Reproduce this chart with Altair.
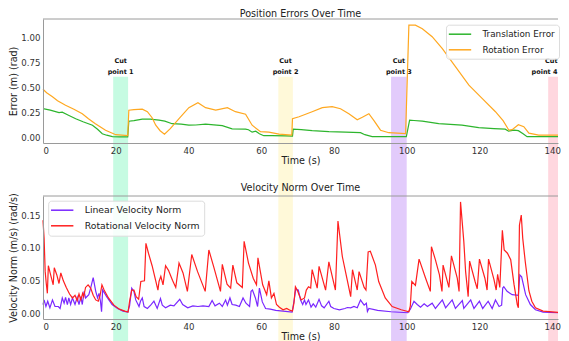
import altair as alt
import pandas as pd

# ---------------- data ----------------
trans_t = [0, 2, 4.4, 5.3, 7, 9, 11, 13.6, 15, 16.3, 17.5, 19.1, 21, 23.3, 23.6, 25, 27.3, 29.5, 31.9, 33.5, 35.5,
           38, 40.1, 42, 44.7, 47, 49.3, 52, 55.7, 56.5, 57.5, 58.5, 59.5, 60.7, 63, 66.7, 68.6, 68.8, 71, 74, 78.6,
           83.2, 87.3, 88.5, 90.5, 95, 99.9, 100.8, 102, 104.3, 108.8, 115.2, 119.8, 124, 127.1, 128, 129.5, 130.7,
           132, 133.1, 136, 143.8]
trans_v = [0.29, 0.275, 0.25, 0.255, 0.225, 0.19, 0.16, 0.125, 0.085, 0.04, 0.025, 0.01, 0.008, 0.008, 0.165, 0.17,
           0.185, 0.185, 0.175, 0.165, 0.14, 0.135, 0.125, 0.127, 0.135, 0.128, 0.12, 0.088, 0.085, 0.08, 0.055, 0.065,
           0.04, 0.02, 0.02, 0.018, 0.015, 0.085, 0.08, 0.07, 0.06, 0.055, 0.05, 0.03, 0.01, 0.01, 0.01, 0.175, 0.172,
           0.165, 0.14, 0.125, 0.1, 0.09, 0.085, 0.065, 0.075, 0.07, 0.04, 0.01, 0.01, 0.01]

rot_t = [0, 1, 2.6, 4, 6.2, 8.5, 10.8, 12.5, 14.4, 17.2, 20, 23.3, 23.6, 25, 27.3, 28.7, 30, 31, 32.2, 33.4, 35, 37.4,
         40.1, 42.6, 44.7, 47.5, 50.7, 52.9, 55.7, 57.5, 59.8, 62.1, 64.9, 68.4, 68.6, 70.4, 74, 76.8, 79.5, 81.8,
         84.1, 86.4, 87.8, 89.6, 91, 92.8, 95.1, 99.7, 100.6, 102.4, 104.3, 107, 109.8, 113.4, 117.1, 120.8, 124.4,
         126.5, 128.1, 129, 130.7, 132.2, 133.6, 136.3, 143.8]
rot_v = [0.485, 0.45, 0.41, 0.37, 0.325, 0.285, 0.24, 0.19, 0.14, 0.074, 0.03, 0.02, 0.275, 0.28, 0.285, 0.26, 0.2,
         0.125, 0.07, 0.035, 0.09, 0.19, 0.30, 0.35, 0.30, 0.275, 0.30, 0.26, 0.235, 0.125, 0.06, 0.055, 0.035, 0.025,
         0.19, 0.21, 0.26, 0.30, 0.31, 0.29, 0.24, 0.18, 0.205, 0.24, 0.17, 0.075, 0.05, 0.04, 1.125, 1.125, 1.09,
         1.01, 0.89, 0.71, 0.525, 0.39, 0.26, 0.17, 0.075, 0.08, 0.13, 0.11, 0.045, 0.025, 0.025]

lin_t = [0, 0.3, 0.8, 1.3, 1.9, 2.6, 3.3, 4.2, 4.7, 5.3, 5.8, 6.2, 6.7, 7.1, 7.6, 8.1, 8.8, 9.4, 9.9, 10.4, 10.8,
         11.3, 11.7, 12.6, 13.1, 13.8, 14.5, 15, 15.4, 15.8, 16.1, 16.4, 17.5, 19, 20.5, 22, 23.3, 23.8, 24.4, 25,
         25.5, 26.4, 26.8, 27.3, 27.8, 28.7, 29.6, 30.5, 31.4, 32.3, 32.8, 33.7, 35, 36, 37.6, 38.4, 39.8, 41.2,
         42.6, 44, 45.6, 46.5, 47.3, 48.5, 49.3, 50.2, 50.7, 51.4, 52, 53, 54, 55, 55.8, 56.8, 57.2, 57.6, 58.4, 59,
         59.5, 60.3, 61.2, 62.5, 64, 66, 68.5, 69, 69.5, 70.2, 70.8, 71.4, 71.9, 72.3, 73, 73.7, 74.3, 75, 75.9,
         76.6, 77.3, 78.6, 79.1, 80, 81.5, 83, 83.7, 84.6, 85.5, 86.4, 87.3, 87.8, 88.3, 88.9, 89.2, 89.6, 92, 95.7,
         100.3, 101, 102, 102.9, 103.8, 104.8, 105.7, 107, 107.9, 109.8, 110.7, 112.5, 113.4, 115.3, 115.7, 117.6,
         118.5, 120, 120.9, 122.4, 123.5, 124.4, 125.4, 126.1, 126.4, 126.7, 127.6, 129, 130.7, 131.1, 131.6, 132.7,
         134, 135.4, 137.5, 143.8]
lin_v = [0.014, 0.021, 0.011, 0.019, 0.009, 0.021, 0.011, 0.011, 0.008, 0.024, 0.016, 0.025, 0.014, 0.024, 0.014,
         0.024, 0.014, 0.025, 0.014, 0.026, 0.014, 0.034, 0.024, 0.029, 0.039, 0.055, 0.034, 0.024, 0.031, 0.019,
         0.003, 0.036, 0.026, 0.014, 0.008, 0.004, 0.0025, 0.012, 0.039, 0.034, 0.021, 0.011, 0.019, 0.024, 0.011,
         0.008, 0.013, 0.019, 0.008, 0.023, 0.013, 0.009, 0.013, 0.012, 0.022, 0.014, 0.009, 0.012, 0.011, 0.012,
         0.011, 0.02, 0.012, 0.016, 0.011, 0.021, 0.013, 0.024, 0.014, 0.013, 0.011, 0.024, 0.016, 0.011, 0.034,
         0.036, 0.024, 0.011, 0.039, 0.018, 0.008, 0.007, 0.005, 0.004, 0.0025, 0.019, 0.037, 0.036, 0.021, 0.014,
         0.021, 0.014, 0.021, 0.01, 0.015, 0.01, 0.022, 0.012, 0.009, 0.019, 0.011, 0.008, 0.006, 0.008, 0.0095,
         0.009, 0.011, 0.009, 0.021, 0.017, 0.013, 0.016, 0.0035, 0.008, 0.005, 0.003, 0.0015, 0.007, 0.019, 0.014,
         0.01, 0.015, 0.011, 0.016, 0.008, 0.021, 0.009, 0.021, 0.008, 0.02, 0.008, 0.021, 0.008, 0.019, 0.008,
         0.019, 0.008, 0.021, 0.011, 0.013, 0.039, 0.041, 0.034, 0.029, 0.028, 0.059, 0.056, 0.029, 0.014, 0.006,
         0.0025, 0.0015]

rv_t = [0, 0.3, 0.6, 0.9, 1.2, 1.47, 2.1, 2.8, 3.1, 3.8, 4.4, 4.9, 5.6, 6.4, 7.3, 8.1, 8.8, 9.4, 9.9, 10.4, 10.9,
        11.2, 11.7, 12.4, 13.1, 13.8, 14.5, 15.2, 15.7, 16.2, 16.8, 18, 19.5, 21, 22.5, 23.4, 23.8, 24.4, 25, 25.6,
        26.3, 26.9, 27.9, 28.3, 29, 30, 31, 31.6, 31.9, 32.4, 33, 33.7, 34.5, 35.6, 36.5, 37.4, 38.5, 39.7, 40.9,
        42.5, 44.6, 45.6, 47, 48.8, 49.3, 50.6, 51.6, 52.2, 53.3, 54.8, 55.3, 56.5, 57.8, 58.7, 59.1, 60.4, 61.5,
        62.1, 62.8, 63.5, 64.2, 65, 66, 67, 68, 68.6, 69, 69.4, 69.9, 70.4, 71, 71.9, 72.4, 73, 73.6, 74, 75.4,
        75.9, 77.7, 78.6, 80.4, 81.1, 82.3, 83.7, 84.6, 85.1, 86.4, 86.9, 88.3, 88.8, 89.4, 90, 91.4, 92.3, 94.1, 96,
        98.5, 100.6, 101, 101.4, 102.4, 103.4, 105.2, 106.5, 106.8, 107.9, 109, 109.7, 110, 111.6, 112.3, 113.9,
        114.4, 114.8, 115.7, 116.2, 116.9, 117.3, 118.8, 119.4, 120, 121.5, 122.1, 122.5, 124, 124.6, 125, 125.6,
        126.3, 126.8, 127.7, 128.6, 129.5, 130.4, 130.7, 131, 131.5, 131.9, 132.6, 133.6, 134.4, 135.4, 137.5, 143.8]
rv_v = [0.142, 0.115, 0.064, 0.046, 0.031, 0.073, 0.059, 0.044, 0.07, 0.059, 0.046, 0.062, 0.05, 0.04, 0.03, 0.024,
        0.028, 0.02, 0.03, 0.021, 0.031, 0.026, 0.04, 0.044, 0.039, 0.028, 0.021, 0.019, 0.028, 0.044, 0.036, 0.024,
        0.013, 0.007, 0.004, 0.0025, 0.019, 0.036, 0.036, 0.026, 0.022, 0.049, 0.05, 0.107, 0.092, 0.073, 0.05,
        0.036, 0.049, 0.057, 0.044, 0.073, 0.066, 0.051, 0.04, 0.077, 0.062, 0.034, 0.09, 0.064, 0.034, 0.097, 0.07,
        0.034, 0.075, 0.045, 0.039, 0.074, 0.047, 0.04, 0.11, 0.077, 0.054, 0.044, 0.085, 0.044, 0.029, 0.05, 0.024,
        0.031, 0.014, 0.01, 0.006, 0.008, 0.005, 0.004, 0.016, 0.041, 0.036, 0.029, 0.021, 0.024, 0.036, 0.041,
        0.039, 0.067, 0.039, 0.072, 0.036, 0.079, 0.036, 0.141, 0.087, 0.05, 0.026, 0.067, 0.036, 0.064, 0.04,
        0.036, 0.094, 0.095, 0.074, 0.049, 0.024, 0.011, 0.006, 0.003, 0.012, 0.049, 0.043, 0.083, 0.054, 0.034,
        0.102, 0.082, 0.059, 0.034, 0.074, 0.04, 0.088, 0.054, 0.034, 0.17, 0.11, 0.064, 0.026, 0.08, 0.049, 0.038,
        0.083, 0.054, 0.036, 0.083, 0.052, 0.036, 0.06, 0.04, 0.127, 0.097, 0.092, 0.082, 0.045, 0.014, 0.009,
        0.135, 0.15, 0.115, 0.079, 0.035, 0.019, 0.009, 0.004, 0.002]

cut_names = ["1", "2", "3", "4"]
cut_start = [19.3, 64.7, 95.7, 138.9]
cut_end = [23.4, 68.7, 100.0, 143.2]
x_ticks = [0, 20, 40, 60, 80, 100, 120, 140]
top_ticks = [0.0, 0.25, 0.5, 0.75, 1.0]
bot_ticks = [0.0, 0.05, 0.10, 0.15]

# ---------------- layout / style ----------------
W, H1, H2 = 515, 124, 123
GAP = 53
XMAX = W / 3.637          # same px-per-second as the reference; right part is cut like the original
FONT = "DejaVu Sans"
SPINE = "#9a9a9a"
band_colors = ["#c6fbe2", "#fff9d9", "#e2cbfb", "#ffd7df"]

top_df = pd.concat([
    pd.DataFrame({"t": trans_t, "v": trans_v, "s": "Translation Error"}),
    pd.DataFrame({"t": rot_t, "v": rot_v, "s": "Rotation Error"}),
])
bot_df = pd.concat([
    pd.DataFrame({"t": lin_t, "v": lin_v, "s": "Linear Velocity Norm"}),
    pd.DataFrame({"t": rv_t, "v": rv_v, "s": "Rotational Velocity Norm"}),
])
bands_df = pd.DataFrame({
    "name": cut_names,
    "start": cut_start,
    "end": cut_end,
    "mid": [(a + b) / 2 for a, b in zip(cut_start, cut_end)],
    "l1": ["Cut"] * 4,
    "l2": ["point " + n for n in cut_names],
})

xscale = alt.Scale(domain=[0, XMAX], nice=False, zero=False, clamp=True)


def xaxis():
    return alt.Axis(values=x_ticks, title="Time (s)", ticks=False, labelPadding=3, titlePadding=1,
                    domainColor=SPINE, grid=False, zindex=1, labelFontSize=8.6, titleFontSize=9.6,
                    labelColor="#333", titleColor="#222", labelFont=FONT, titleFont=FONT,
                    titleFontWeight="normal")


def yaxis(title, vals):
    return alt.Axis(values=vals, title=title, format=".2f", ticks=False, labelPadding=3, titlePadding=2,
                    domainColor=SPINE, grid=False, zindex=1, labelFontSize=8.6, titleFontSize=9.6,
                    labelColor="#333", titleColor="#222", labelFont=FONT, titleFont=FONT,
                    titleFontWeight="normal")


def legend(x, y, fs):
    return alt.Legend(title=None, orient="none", legendX=x, legendY=y, symbolType="M-2.5,0H2.5",
                      symbolSize=80, symbolStrokeWidth=1.5, symbolOffset=4.5, labelOffset=17,
                      labelFontSize=fs, labelFont=FONT, labelColor="#222", padding=4, rowPadding=4.6,
                      strokeColor="#dcdcdc", fillColor="rgba(255,255,255,0.85)", cornerRadius=3)


top_rule = alt.Chart(pd.DataFrame({"a": [0]})).mark_rule(color=SPINE, strokeWidth=1).encode(
    x=alt.value(0), x2=alt.value(W), y=alt.value(0))

bands = alt.Chart(bands_df).mark_rect().encode(
    x=alt.X("start:Q", scale=xscale, axis=xaxis()),
    x2="end:Q",
    y=alt.value(57.7),
    y2=alt.value(H1 + GAP + H2 + 24),
    fill=alt.Fill("name:N", scale=alt.Scale(domain=cut_names, range=band_colors), legend=None),
)


def cut_label(field, ypos, align, dx, test):
    return alt.Chart(bands_df).transform_filter(test).mark_text(
        font=FONT, fontSize=6.5, fontWeight="bold", color="#111", baseline="middle",
        align=align, dx=dx).encode(
        x=alt.X("mid:Q", scale=xscale, axis=xaxis()), y=alt.value(ypos), text=f"{field}:N")


inner = "datum.name != '4'"
edge = "datum.name == '4'"
labels = [
    cut_label("l1", 41.7, "center", 0, inner),
    cut_label("l2", 52.7, "center", 0, inner),
    cut_label("l1", 41.7, "right", 1.5, edge),
    cut_label("l2", 52.7, "right", 1.5, edge),
]

top_lines = alt.Chart(top_df).mark_line(strokeWidth=1.2).encode(
    x=alt.X("t:Q", scale=xscale, axis=xaxis()),
    y=alt.Y("v:Q", scale=alt.Scale(domain=[-0.053, 1.187], nice=False, zero=False),
            axis=yaxis("Error (m) (rad)", top_ticks)),
    color=alt.Color("s:N", scale=alt.Scale(domain=["Translation Error", "Rotation Error"],
                                           range=["#2db52d", "#ffa820"]),
                    legend=legend(403, 5.7, 8.8)),
    detail="s:N",
)

top = alt.layer(bands, top_rule, *labels, top_lines).properties(
    width=W, height=H1,
    title=alt.TitleParams("Position Errors Over Time", fontSize=9.6, fontWeight="normal", font=FONT,
                          color="#222", anchor="middle", frame="group", offset=0),
)

bot_lines = alt.Chart(bot_df).mark_line(strokeWidth=1.2).encode(
    x=alt.X("t:Q", scale=xscale, axis=xaxis()),
    y=alt.Y("v:Q", scale=alt.Scale(domain=[-0.008, 0.179], nice=False, zero=False),
            axis=yaxis("Velocity Norm (m/s) (rad/s)", bot_ticks)),
    color=alt.Color("s:N", scale=alt.Scale(domain=["Linear Velocity Norm", "Rotational Velocity Norm"],
                                           range=["#7a28ff", "#ff1f1f"]),
                    legend=legend(5.2, 4.7, 9.3)),
    detail="s:N",
)

bottom = alt.layer(top_rule, bot_lines).properties(
    width=W, height=H2,
    title=alt.TitleParams("Velocity Norm Over Time", fontSize=9.6, fontWeight="normal", font=FONT,
                          color="#222", anchor="middle", frame="group", offset=0),
)

chart = alt.vconcat(top, bottom, spacing=GAP, bounds="flush").resolve_scale(
    x="independent", y="independent", color="independent", fill="independent"
).properties(
    padding={"left": 0, "top": 0, "right": 0, "bottom": 0}
).configure(font=FONT).configure_view(stroke=None)

chart.save("out.html", embed_options={"renderer": "svg", "actions": False})
